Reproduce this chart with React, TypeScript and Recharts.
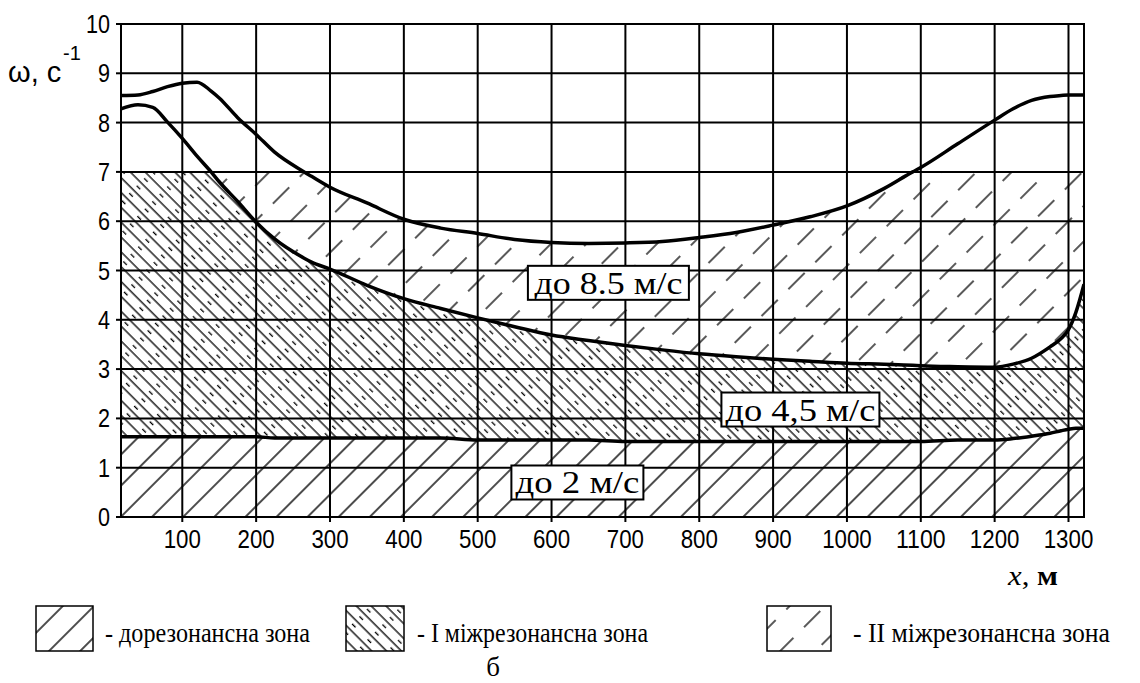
import {
  Area,
  CartesianGrid,
  ComposedChart,
  Line,
  ReferenceArea,
  ReferenceDot,
  XAxis,
  YAxis,
} from 'recharts'

// x, m
const xs = [
  17, 40, 60, 80, 100, 120, 139, 150, 175, 200, 225, 265, 275, 300, 350, 400,
  450, 500, 550, 600, 650, 700, 750, 800, 850, 900, 950, 1000, 1050, 1089,
  1100, 1150, 1200, 1225, 1250, 1275, 1290, 1300, 1310, 1321,
]

// upper boundary curve, omega 1/s
const upperCurve = [
  8.55, 8.56, 8.63, 8.73, 8.8, 8.82, 8.64, 8.5, 8.1, 7.76, 7.4, 7.0, 6.91,
  6.69, 6.37, 6.04, 5.86, 5.75, 5.63, 5.57, 5.55, 5.56, 5.59, 5.67, 5.77,
  5.92, 6.09, 6.31, 6.66, 7.0, 7.09, 7.57, 8.05, 8.28, 8.45, 8.53, 8.55, 8.56,
  8.56, 8.56,
]

// middle curve
const middleCurve = [
  8.28, 8.36, 8.31, 8.01, 7.68, 7.32, 7.0, 6.8, 6.4, 5.98, 5.64, 5.25, 5.17,
  5.03, 4.7, 4.43, 4.23, 4.04, 3.86, 3.69, 3.58, 3.48, 3.39, 3.31, 3.25, 3.2,
  3.16, 3.12, 3.1, 3.08, 3.07, 3.05, 3.04, 3.1, 3.22, 3.45, 3.62, 3.8, 4.15,
  4.72,
]

// lower line
const lowerLine = [
  1.63, 1.63, 1.63, 1.63, 1.63, 1.63, 1.63, 1.63, 1.63, 1.63, 1.6, 1.6, 1.6,
  1.6, 1.6, 1.6, 1.6, 1.56, 1.56, 1.56, 1.56, 1.53, 1.53, 1.53, 1.53, 1.53,
  1.53, 1.53, 1.53, 1.53, 1.53, 1.56, 1.56, 1.59, 1.64, 1.7, 1.75, 1.78, 1.8,
  1.8,
]

const xTicks = [100, 200, 300, 400, 500, 600, 700, 800, 900, 1000, 1100, 1200, 1300]
const yTicks = [0, 1, 2, 3, 4, 5, 6, 7, 8, 9, 10]
const HATCH_TOP = 7

const zoneLabels = [
  { x: 677, y: 4.75, text: 'до 8.5 м/с', w: 161, tl: 148 },
  { x: 937, y: 2.18, text: 'до 4,5 м/с', w: 158, tl: 150 },
  { x: 635, y: 0.7, text: 'до 2 м/с', w: 132, tl: 124 },
]

const legendItems = [
  { pattern: 'lgPre', text: '- дорезонансна зона', bx: 36, bw: 57, tx: 105, tl: 205 },
  { pattern: 'lgZ1', text: '- I міжрезонансна зона', bx: 346, bw: 58, tx: 417, tl: 231 },
  { pattern: 'lgZ2', text: '- II міжрезонансна зона', bx: 767, bw: 64, tx: 853, tl: 257 },
]

const data = xs.map((x, i) => ({
  x,
  upper: upperCurve[i],
  middle: middleCurve[i],
  lower: lowerLine[i],
  preZone: [0, lowerLine[i]],
  zone1: [lowerLine[i], Math.min(middleCurve[i], HATCH_TOP)],
  zone2: [Math.min(middleCurve[i], HATCH_TOP), Math.min(upperCurve[i], HATCH_TOP)],
}))

const SANS = "'Liberation Sans', Arial, sans-serif"
const SERIF = "'Liberation Serif', 'Times New Roman', serif"

function HatchDefs({ prefix }: { prefix: string }) {
  return (
    <defs>
      <pattern
        id={`${prefix}Pre`}
        width="22"
        height="22"
        patternUnits="userSpaceOnUse"
        patternTransform="rotate(45)"
      >
        <line x1="11" y1="0" x2="11" y2="22" stroke="#000" strokeWidth="1.4" />
      </pattern>
      <pattern
        id={`${prefix}Z1`}
        width="10.5"
        height="22"
        patternUnits="userSpaceOnUse"
        patternTransform="rotate(-45)"
      >
        <line x1="2" y1="0" x2="2" y2="22" stroke="#000" strokeWidth="1.3" />
        <line x1="7.3" y1="8" x2="7.3" y2="13" stroke="#000" strokeWidth="1.3" />
      </pattern>
      <pattern
        id={`${prefix}Z2`}
        width="25"
        height="38"
        patternUnits="userSpaceOnUse"
        patternTransform="rotate(45)"
      >
        <line x1="12" y1="4" x2="12" y2="27" stroke="#000" strokeWidth="1.3" />
      </pattern>
    </defs>
  )
}

function XTick({ x, y, payload }: any) {
  const s = String(payload.value)
  return (
    <text
      x={x}
      y={y}
      dy={18}
      textAnchor="middle"
      fontFamily={SANS}
      fontSize={25}
      fill="#000"
      textLength={s.length * 12.4}
      lengthAdjust="spacingAndGlyphs"
    >
      {s}
    </text>
  )
}

function YTick({ x, y, payload }: any) {
  const s = String(payload.value)
  return (
    <text
      x={x}
      y={y}
      dy={9}
      textAnchor="end"
      fontFamily={SANS}
      fontSize={25}
      fill="#000"
      textLength={s.length * 12}
      lengthAdjust="spacingAndGlyphs"
    >
      {s}
    </text>
  )
}

function LabelBox({ cx, cy, text, w, tl }: any) {
  return (
    <g>
      <rect x={cx - w / 2} y={cy - 17} width={w} height={34} fill="#fff" stroke="#000" strokeWidth={2} />
      <text
        x={cx}
        y={cy + 11}
        textAnchor="middle"
        fontFamily={SERIF}
        fontSize={32}
        fill="#000"
        textLength={tl}
        lengthAdjust="spacingAndGlyphs"
      >
        {text}
      </text>
    </g>
  )
}

export default function App() {
  return (
    <div style={{ position: 'absolute', left: 0, top: 0, width: 1140, height: 683, background: '#fff' }}>
      <ComposedChart
        width={1140}
        height={683}
        data={data}
        margin={{ top: 24, right: 56, bottom: 126, left: 51 }}
      >
        <HatchDefs prefix="ch" />
        <CartesianGrid stroke="#000" strokeWidth={2} strokeOpacity={1} />
        <XAxis
          dataKey="x"
          type="number"
          domain={[17, 1321]}
          ticks={xTicks}
          allowDataOverflow
          height={40}
          axisLine={false}
          tickLine={{ stroke: '#000', strokeWidth: 2 }}
          tickSize={5}
          tickMargin={8}
          tick={<XTick />}
        />
        <YAxis
          type="number"
          domain={[0, 10]}
          ticks={yTicks}
          width={70}
          axisLine={false}
          tickLine={{ stroke: '#000', strokeWidth: 2 }}
          tickSize={5}
          tickMargin={6}
          tick={<YTick />}
        />
        <Area
          type="monotone"
          dataKey="preZone"
          stroke="none"
          fill="url(#chPre)"
          fillOpacity={1}
          isAnimationActive={false}
          activeDot={false}
        />
        <Area
          type="monotone"
          dataKey="zone1"
          stroke="none"
          fill="url(#chZ1)"
          fillOpacity={1}
          isAnimationActive={false}
          activeDot={false}
        />
        <Area
          type="monotone"
          dataKey="zone2"
          stroke="none"
          fill="url(#chZ2)"
          fillOpacity={1}
          isAnimationActive={false}
          activeDot={false}
        />
        <Line type="monotone" dataKey="upper" stroke="#000" strokeWidth={3.5} dot={false} isAnimationActive={false} />
        <Line type="monotone" dataKey="middle" stroke="#000" strokeWidth={3.5} dot={false} isAnimationActive={false} />
        <Line type="monotone" dataKey="lower" stroke="#000" strokeWidth={3.5} dot={false} isAnimationActive={false} />
        <ReferenceArea x1={17} x2={1321} y1={0} y2={10} fill="none" stroke="#000" strokeWidth={2} fillOpacity={0} />
        {zoneLabels.map((z) => (
          <ReferenceDot
            key={z.text}
            x={z.x}
            y={z.y}
            r={0}
            zIndex={3000}
            shape={(p: any) => <LabelBox cx={p.cx} cy={p.cy} text={z.text} w={z.w} tl={z.tl} />}
          />
        ))}
      </ComposedChart>
      <svg
        width={1140}
        height={683}
        style={{ position: 'absolute', left: 0, top: 0, pointerEvents: 'none' }}
      >
        <HatchDefs prefix="lg" />
        <text x={8} y={82} fontFamily={SANS} fontSize={29} fill="#000">
          ω, с
        </text>
        <text x={63} y={60} fontFamily={SANS} fontSize={20} fill="#000">
          -1
        </text>
        <text x={1008} y={585} fontFamily={SERIF} fontSize={27} fill="#000" textLength={50} lengthAdjust="spacingAndGlyphs">
          <tspan fontStyle="italic">x</tspan>
          <tspan>, </tspan>
          <tspan fontWeight="bold">м</tspan>
        </text>
        {legendItems.map((l) => (
          <g key={l.text}>
            <rect x={l.bx} y={606} width={l.bw} height={45} fill={`url(#${l.pattern})`} stroke="#000" strokeWidth={1.5} />
            <text
              x={l.tx}
              y={642}
              fontFamily={SERIF}
              fontSize={27}
              fill="#000"
              textLength={l.tl}
              lengthAdjust="spacingAndGlyphs"
            >
              {l.text}
            </text>
          </g>
        ))}
        <text x={493} y={676} textAnchor="middle" fontFamily={SERIF} fontSize={27} fill="#000">
          б
        </text>
      </svg>
    </div>
  )
}
